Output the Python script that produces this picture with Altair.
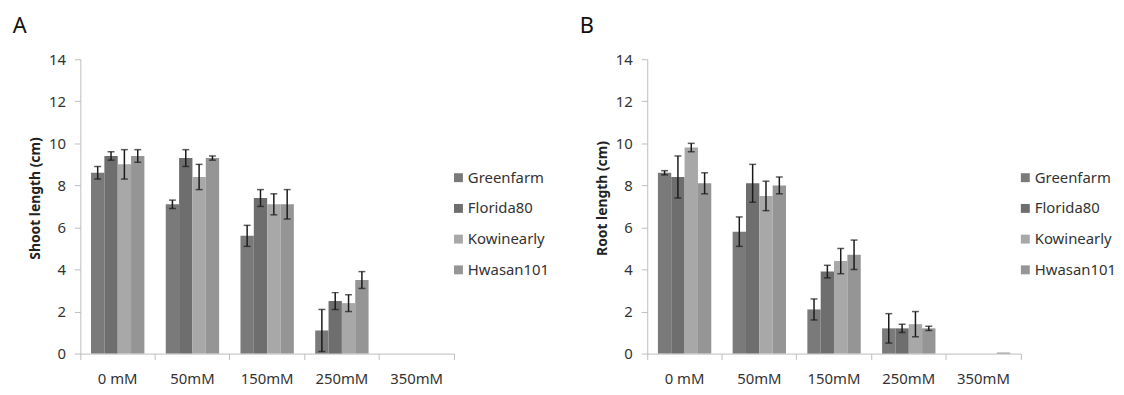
import altair as alt
import pandas as pd

conc = ["0 mM", "50mM", "150mM", "250mM", "350mM"]
cultivars = ["Greenfarm", "Florida80", "Kowinearly", "Hwasan101"]
colors = ["#7a7a7a", "#6e6e6e", "#a8a8a8", "#959595"]

# Panel A: shoot length (cm), means and error
shoot_greenfarm = [8.6, 7.1, 5.6, 1.1, 0.0]
shoot_florida80 = [9.4, 9.3, 7.4, 2.5, 0.0]
shoot_kowinearly = [9.0, 8.4, 7.1, 2.4, 0.0]
shoot_hwasan101 = [9.4, 9.3, 7.1, 3.5, 0.0]
shoot_err_greenfarm = [0.3, 0.2, 0.5, 1.0, 0.0]
shoot_err_florida80 = [0.2, 0.4, 0.4, 0.4, 0.0]
shoot_err_kowinearly = [0.7, 0.6, 0.5, 0.4, 0.0]
shoot_err_hwasan101 = [0.3, 0.1, 0.7, 0.4, 0.0]

# Panel B: root length (cm), means and error
root_greenfarm = [8.6, 5.8, 2.1, 1.2, 0.0]
root_florida80 = [8.4, 8.1, 3.9, 1.2, 0.0]
root_kowinearly = [9.8, 7.5, 4.4, 1.4, 0.0]
root_hwasan101 = [8.1, 8.0, 4.7, 1.2, 0.05]
root_err_greenfarm = [0.1, 0.7, 0.5, 0.7, 0.0]
root_err_florida80 = [1.0, 0.9, 0.3, 0.2, 0.0]
root_err_kowinearly = [0.2, 0.7, 0.6, 0.6, 0.0]
root_err_hwasan101 = [0.5, 0.4, 0.7, 0.1, 0.0]


def build_df(means, errs):
    rows = []
    for cv, m_list, e_list in zip(cultivars, means, errs):
        for c, m, e in zip(conc, m_list, e_list):
            rows.append({"conc": c, "cultivar": cv, "value": m, "err": e})
    return pd.DataFrame(rows)


df_a = build_df(
    [shoot_greenfarm, shoot_florida80, shoot_kowinearly, shoot_hwasan101],
    [shoot_err_greenfarm, shoot_err_florida80, shoot_err_kowinearly, shoot_err_hwasan101],
)
df_b = build_df(
    [root_greenfarm, root_florida80, root_kowinearly, root_hwasan101],
    [root_err_greenfarm, root_err_florida80, root_err_kowinearly, root_err_hwasan101],
)

FONT = "Noto Sans"
AXIS_GRAY = "#bdbdbd"
TEXT = "#333333"


def panel(df, ytitle, letter):
    x_scale = alt.Scale(domain=conc, paddingInner=0, paddingOuter=0)
    xo_scale = alt.Scale(domain=cultivars, paddingInner=0, paddingOuter=0.8)
    y_scale = alt.Scale(domain=[0, 14])
    x_axis = alt.Axis(
        title=None, labelAngle=0, bandPosition=1, tickExtra=True, tickSize=6,
        labelPadding=12, domainColor=AXIS_GRAY, tickColor=AXIS_GRAY,
        labelFont=FONT, labelFontSize=15, labelColor=TEXT, grid=False,
    )
    y_axis = alt.Axis(
        title=ytitle, values=list(range(0, 15, 2)), grid=False, tickSize=6,
        labelPadding=9, domainColor=AXIS_GRAY, tickColor=AXIS_GRAY,
        labelFont=FONT, labelFontSize=15, labelColor=TEXT,
        titleFont=FONT, titleFontSize=14, titleFontWeight="bold", titleColor="#222222",
        titlePadding=6, titleY=140,
    )
    x_enc = alt.X("conc:N", sort=conc, scale=x_scale, axis=x_axis)
    xo_enc = alt.XOffset("cultivar:N", sort=cultivars, scale=xo_scale)
    base = alt.Chart(df)
    bars = base.mark_bar().encode(
        x=x_enc,
        xOffset=xo_enc,
        y=alt.Y("value:Q", scale=y_scale, axis=y_axis),
        color=alt.Color(
            "cultivar:N", sort=cultivars,
            scale=alt.Scale(domain=cultivars, range=colors),
            legend=alt.Legend(
                orient="none", legendX=374, legendY=112, title=None,
                symbolType="square", symbolSize=81, symbolStrokeWidth=0,
                labelFont=FONT, labelFontSize=15, labelColor=TEXT,
                rowPadding=15, labelOffset=2, padding=0,
            ),
        ),
    )
    err = base.transform_filter("datum.err > 0").transform_calculate(
        lo="max(0, datum.value - datum.err)", hi="datum.value + datum.err"
    )
    rules = err.mark_rule(color="#1a1a1a", strokeWidth=1.5).encode(
        x=x_enc, xOffset=xo_enc,
        y=alt.Y("lo:Q", scale=y_scale, axis=y_axis),
        y2="hi:Q",
    )
    cap_lo = err.mark_tick(color="#1a1a1a", thickness=1.5, size=7).encode(
        x=x_enc, xOffset=xo_enc, y=alt.Y("lo:Q", scale=y_scale, axis=y_axis)
    )
    cap_hi = err.mark_tick(color="#1a1a1a", thickness=1.5, size=7).encode(
        x=x_enc, xOffset=xo_enc, y=alt.Y("hi:Q", scale=y_scale, axis=y_axis)
    )
    return alt.layer(bars, rules, cap_lo, cap_hi).properties(
        width=377, height=297,
        title=alt.TitleParams(
            letter, anchor="start", frame="bounds", fontSize=22,
            fontWeight="normal", font=FONT, color="#111111", dx=-16, offset=14,
        ),
    )


chart = alt.hconcat(
    panel(df_a, "Shoot length (cm)", "A"),
    panel(df_b, "Root length (cm)", "B"),
    spacing=30,
).resolve_scale(color="independent").resolve_legend(color="independent").properties(
    padding={"left": 4, "top": 6, "right": 0, "bottom": 0},
).configure(background="white").configure_view(stroke=None)

chart.save("out.html", embed_options={"renderer": "svg", "actions": False})
